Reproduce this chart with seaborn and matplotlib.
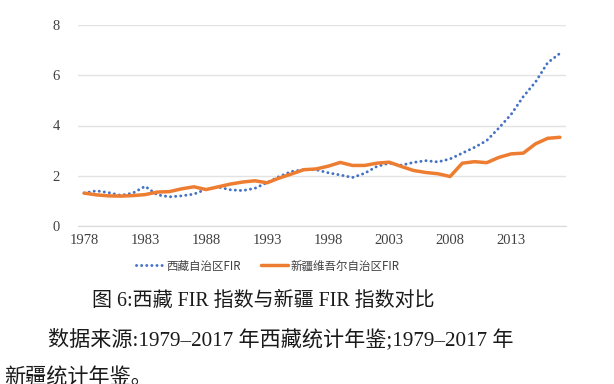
import numpy as np
import pandas as pd
import matplotlib
matplotlib.use('Agg')
import matplotlib.pyplot as plt
import seaborn as sns

years = list(range(1978, 2018))
tibet_fir = [1.31, 1.40, 1.33, 1.22, 1.31, 1.58, 1.24, 1.16, 1.20, 1.27,
             1.46, 1.55, 1.44, 1.41, 1.50, 1.73, 1.97, 2.17, 2.24, 2.24,
             2.12, 2.03, 1.93, 2.10, 2.37, 2.50, 2.42, 2.53, 2.60, 2.55,
             2.67, 2.90, 3.13, 3.40, 3.90, 4.44, 5.15, 5.73, 6.50, 6.87]
xinjiang_fir = [1.31, 1.24, 1.20, 1.19, 1.21, 1.25, 1.35, 1.37, 1.48, 1.56,
                1.45, 1.56, 1.67, 1.75, 1.80, 1.72, 1.91, 2.07, 2.24, 2.27,
                2.38, 2.53, 2.41, 2.41, 2.50, 2.54, 2.37, 2.21, 2.13, 2.08,
                1.97, 2.50, 2.56, 2.52, 2.73, 2.87, 2.90, 3.27, 3.49, 3.53]
tick_years = [1978, 1983, 1988, 1993, 1998, 2003, 2008, 2013]
y_ticks = [0, 2, 4, 6, 8]

series_names = ['西藏自治区FIR', '新疆维吾尔自治区FIR']
df = pd.DataFrame({'year': years, series_names[0]: tibet_fir, series_names[1]: xinjiang_fir})

sns.set_style('white')
plt.rcParams['font.family'] = ['Liberation Serif', 'Noto Sans CJK SC']

fig = plt.figure(figsize=(6.14, 3.84), dpi=100)
ax = fig.add_axes([78 / 614, 1 - 226 / 384, 488 / 614, 201 / 384])

sns.lineplot(data=df, x='year', y=series_names[0], ax=ax, color='#4472C4',
             linewidth=2.1, linestyle=(0, (0.05, 1.7)), dash_capstyle='round',
             label=series_names[0])
sns.lineplot(data=df, x='year', y=series_names[1], ax=ax, color='#ED7D31',
             linewidth=2.5, label=series_names[1])

ax.set_xlim(1977.5, 2017.5)
ax.set_ylim(0, 8)
ax.set_xticks(tick_years)
ax.set_yticks(y_ticks)
ax.set_xlabel('')
ax.set_ylabel('')
ax.tick_params(axis='both', length=0, labelsize=10.5, labelcolor='#404040')
ax.tick_params(axis='x', pad=6)
ax.tick_params(axis='y', pad=13)
ax.grid(axis='y', color='#e3e3e3', linewidth=1)
ax.set_axisbelow(True)
for side in ['left', 'right', 'top']:
    ax.spines[side].set_visible(False)
ax.spines['bottom'].set_color('#d9d9d9')

handles, labels = ax.get_legend_handles_labels()
ax.get_legend().remove()
fig.legend(handles, labels, loc='center', ncol=2, frameon=False,
           bbox_to_anchor=(268 / 614, 1 - 266 / 384),
           handlelength=2.4, columnspacing=1.7, handletextpad=0.2,
           prop={'family': ['Noto Sans CJK SC'], 'size': 8.3, 'stretch': 'condensed'})
for t in fig.legends[0].get_texts():
    t.set_color('#404040')

fig.text(263 / 614, 1 - 301 / 384, '图 6:西藏 FIR 指数与新疆 FIR 指数对比',
         ha='center', va='center', fontsize=14.4, color='#1a1a1a')
fig.text(48 / 614, 1 - 339 / 384, '数据来源:1979–2017 年西藏统计年鉴;1979–2017 年',
         ha='left', va='center', fontsize=15.2, color='#1a1a1a')
fig.text(4 / 614, 1 - 378 / 384, '新疆统计年鉴。',
         ha='left', va='center', fontsize=15.2, color='#1a1a1a')

fig.savefig('out.png', dpi=100)
